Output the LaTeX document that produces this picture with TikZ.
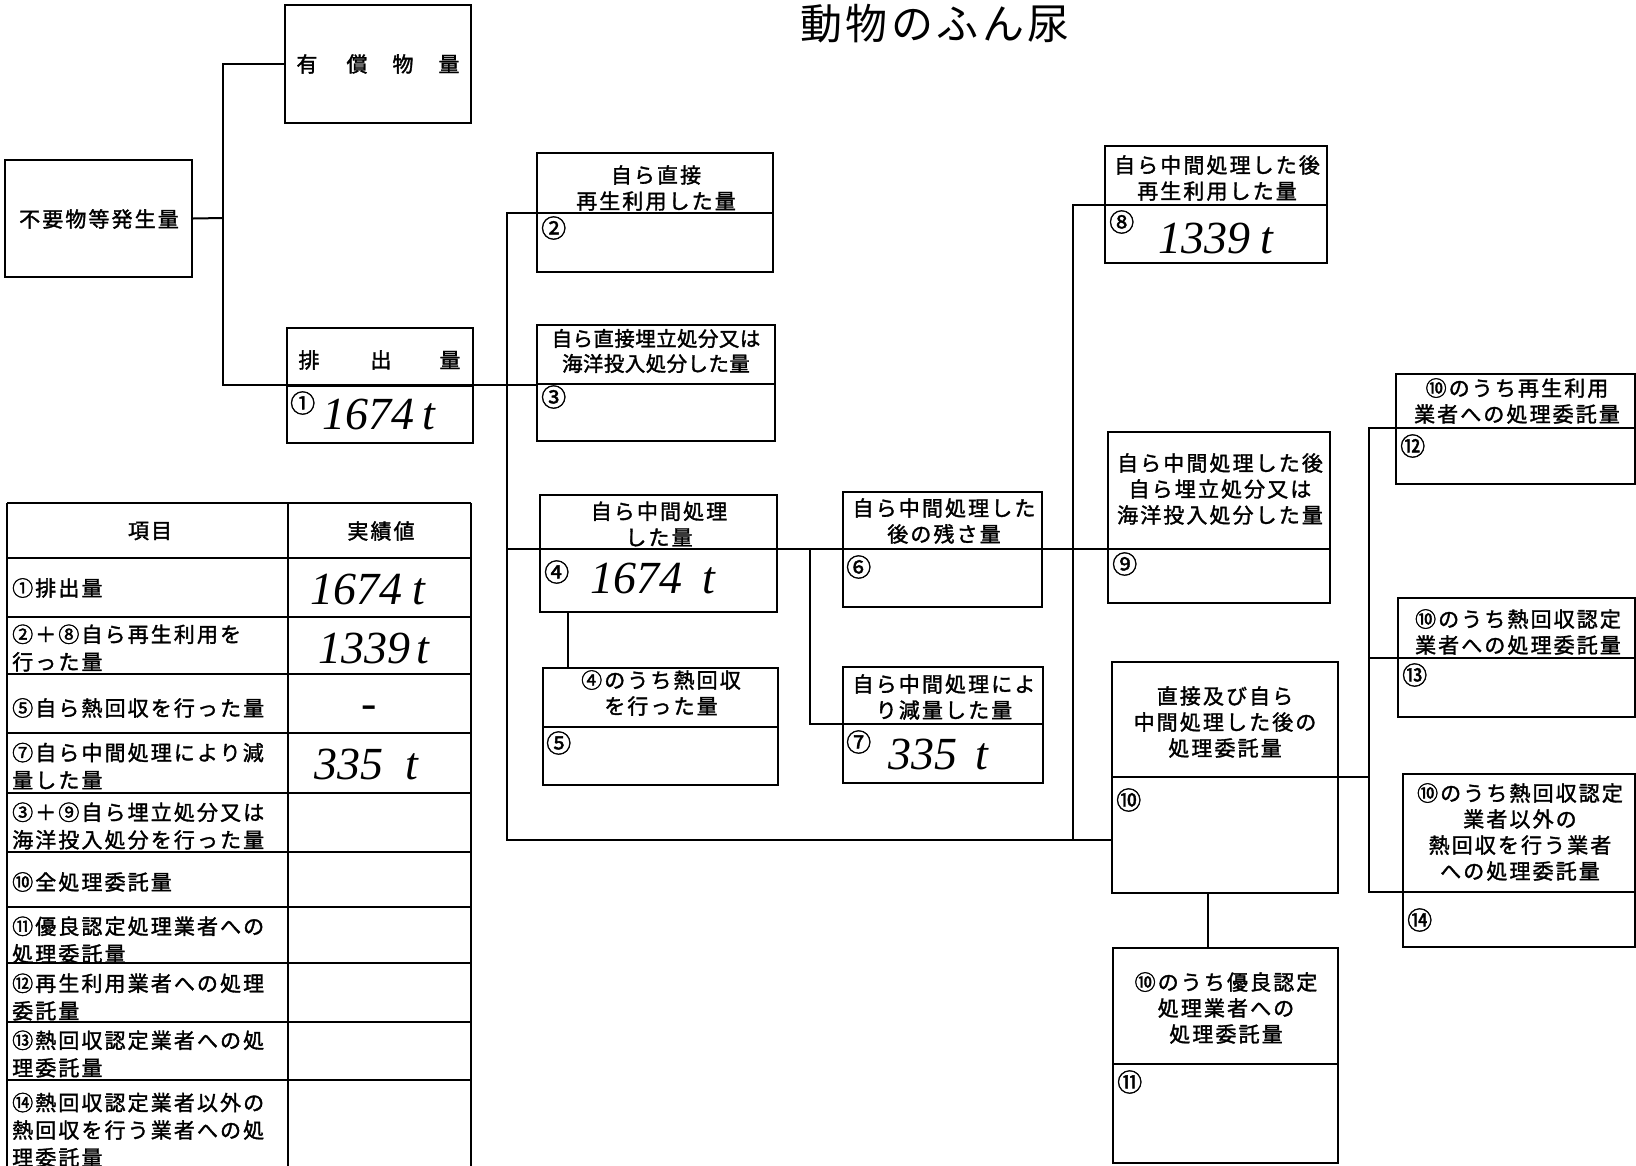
\documentclass[tikz,border=0pt]{standalone}
\usepackage{fontspec}
\usetikzlibrary{fit}
\newfontfamily\jp{Noto Sans CJK JP}[LetterSpace=10,FakeBold=1.6]
\newfontfamily\jpn{Noto Sans CJK JP}[LetterSpace=2,FakeBold=1.6]
\newfontfamily\jpt{Noto Sans CJK JP}[LetterSpace=8]
\newfontfamily\hand{Liberation Serif}
\newcommand\mybox[6]{%
  \node[box, fit={(#2,#3)(#4,#5)}] (#1) {};
  \draw[div] (#2,#6) -- (#4,#6);}
\begin{document}
\begin{tikzpicture}[x=1pt,y=-1pt,
  box/.style={draw, line width=2.4pt, inner sep=0pt},
  div/.style={line width=2pt},
  conn/.style={line width=2pt},
  tbl/.style={line width=2.2pt},
  txt/.style={font=\jp\fontsize{21}{26}\selectfont, align=center, inner sep=0pt},
  txtn/.style={font=\jpn\fontsize{20.5}{25}\selectfont, align=center, inner sep=0pt},
  tcell/.style={font=\jp\fontsize{21}{27.5}\selectfont, align=left, anchor=west, inner sep=0pt},
  num/.style={font=\jp\fontsize{25}{25}\selectfont, anchor=west, inner sep=0pt},
  hw/.style={font=\hand\itshape\fontsize{46}{46}\selectfont, anchor=west, inner sep=0pt}]
\useasboundingbox (0,0) rectangle (1636,1165);
\fill[white] (0,0) rectangle (1636,1165);

% title (handwritten)
\node[font=\jpt\fontsize{42}{42}\selectfont, inner sep=0pt] (title) at (935,24) {動物のふん尿};

% left boxes
\node[box, fit={(5,160)(192,277)}] (b0) {};
\node[txt] (t0) at (99,219) {不要物等発生量};
\node[box, fit={(285,5)(471,123)}] (by) {};
\node[txt] (ty1) at (307,64) {有};
\node[txt] (ty2) at (357,64) {償};
\node[txt] (ty3) at (403,64) {物};
\node[txt] (ty4) at (449,64) {量};
\mybox{b1}{287}{328}{473}{443}{386}
\node[txt] (t1a) at (309,360) {排};
\node[txt] (t1b) at (381,360) {出};
\node[txt] (t1c) at (450,360) {量};
\node[num] (n1) at (290,403) {①};
\node[hw] (v1) at (322,414) {1674\hspace{8pt}t};

% column 2
\mybox{b2}{537}{153}{773}{272}{213}
\node[txt] (t2) at (656,188) {自ら直接\\再生利用した量};
\node[num] (n2) at (541,228) {②};
\mybox{b3}{537}{325}{775}{441}{384}
\node[txtn] (t3) at (656,351) {自ら直接埋立処分又は\\海洋投入処分した量};
\node[num] (n3) at (541,397) {③};
\mybox{b4}{540}{495}{777}{612}{549}
\node[txt] (t4) at (659,524) {自ら中間処理\\した量};
\node[num] (n4) at (544,572) {④};
\node[hw] (v4) at (590,578) {1674\hspace{20pt}t};
\mybox{b5}{543}{668}{778}{785}{727}
\node[txt] (t5) at (661,693) {④のうち熱回収\\を行った量};
\node[num] (n5) at (546,743) {⑤};

% column 3
\mybox{b6}{843}{492}{1042}{607}{549}
\node[txt] (t6) at (944,521) {自ら中間処理した\\後の残さ量};
\node[num] (n6) at (846,567) {⑥};
\mybox{b7}{843}{667}{1043}{783}{724}
\node[txt] (t7) at (944,697) {自ら中間処理によ\\り減量した量};
\node[num] (n7) at (846,742) {⑦};
\node[hw] (v7) at (888,754) {335\hspace{18pt}t};

% column 4
\mybox{b8}{1105}{146}{1327}{263}{205}
\node[txt] (t8) at (1217,178) {自ら中間処理した後\\再生利用した量};
\node[num] (n8) at (1109,222) {⑧};
\node[hw] (v8) at (1158,238) {1339\hspace{10pt}t};
\mybox{b9}{1108}{432}{1330}{603}{549}
\node[txt] (t9) at (1220,489) {自ら中間処理した後\\自ら埋立処分又は\\海洋投入処分した量};
\node[num] (n9) at (1112,564) {⑨};
\mybox{b10}{1112}{662}{1338}{893}{777}
\node[txt] (t10) at (1225,722) {直接及び自ら\\中間処理した後の\\処理委託量};
\node[num] (n10) at (1116,800) {⑩};
\mybox{b11}{1113}{948}{1338}{1163}{1064}
\node[txt] (t11) at (1226,1008) {⑩のうち優良認定\\処理業者への\\処理委託量};
\node[num] (n11) at (1117,1082) {⑪};

% right column
\mybox{b12}{1396}{374}{1635}{484}{428}
\node[txt] (t12) at (1517,401) {⑩のうち再生利用\\業者への処理委託量};
\node[num] (n12) at (1400,446) {⑫};
\mybox{b13}{1398}{598}{1635}{717}{658}
\node[txt] (t13) at (1518,632) {⑩のうち熱回収認定\\業者への処理委託量};
\node[num] (n13) at (1402,675) {⑬};
\mybox{b14}{1403}{774}{1635}{947}{892}
\node[txt] (t14) at (1520,832) {⑩のうち熱回収認定\\業者以外の\\熱回収を行う業者\\への処理委託量};
\node[num] (n14) at (1407,920) {⑭};

% connectors
\coordinate (j0) at (223,218);
\coordinate (e3) at (537,385);
\draw[conn] (b0.east) -- (j0);
\draw[conn] (j0) |- (by.west);
\draw[conn] (j0) |- (e3);

\coordinate (k2) at (537,213);
\coordinate (kb) at (507,840);
\coordinate (k10) at (1112,840);
\draw[conn] (k2) -| (kb) -- (k10);
\coordinate (m0) at (507,549);
\coordinate (m9) at (1108,549);
\draw[conn] (m0) -- (m9);
\draw[conn] (b4.south -| 568,0) -- (b5.north -| 568,0);
\coordinate (m7) at (810,549);
\coordinate (e7) at (843,724);
\draw[conn] (m7) |- (e7);
\coordinate (k8) at (1105,205);
\coordinate (kv) at (1073,840);
\draw[conn] (k8) -| (kv);
\draw[conn] (b10.south -| 1208,0) -- (b11.north -| 1208,0);

\coordinate (r10) at (1338,777);
\coordinate (rv) at (1369,777);
\coordinate (r12) at (1396,428);
\coordinate (r13) at (1398,658);
\coordinate (r14) at (1403,892);
\draw[conn] (r10) -- (rv);
\draw[conn] (r12) -| (1369,892) -- (r14);
\draw[conn] (1369,658) -- (r13);

% table
\draw[tbl] (7,503) -- (471,503);
\draw[tbl] (7,503) -- (7,1170);
\draw[tbl] (288,503) -- (288,1170);
\draw[tbl] (471,503) -- (471,1170);
\foreach \yy in {558,617,674,733,793,852,907,963,1022,1080}
  \draw[tbl] (7,\yy) -- (471,\yy);
\node[txt] (h1) at (150,531) {項目};
\node[txt] (h2) at (381,531) {実績値};
\node[tcell] (r1) at (12,588) {①排出量};
\node[tcell] (r2) at (12,648) {②＋⑧自ら再生利用を\\行った量};
\node[tcell] (r3) at (12,708) {⑤自ら熱回収を行った量};
\node[tcell] (r4) at (12,766) {⑦自ら中間処理により減\\量した量};
\node[tcell] (r5) at (12,826) {③＋⑨自ら埋立処分又は\\海洋投入処分を行った量};
\node[tcell] (r6) at (12,882) {⑩全処理委託量};
\node[tcell] (r7) at (12,940) {⑪優良認定処理業者への\\処理委託量};
\node[tcell] (r8) at (12,997) {⑫再生利用業者への処理\\委託量};
\node[tcell] (r9) at (12,1054) {⑬熱回収認定業者への処\\理委託量};
\node[tcell] (r10t) at (12,1130) {⑭熱回収認定業者以外の\\熱回収を行う業者への処\\理委託量};
\node[hw] (tv1) at (310,589) {1674\hspace{10pt}t};
\node[hw] (tv2) at (318,648) {1339\hspace{6pt}t};
\node[hw] (tv3) at (361,712) {-};
\node[hw] (tv4) at (314,764) {335\hspace{22pt}t};
\end{tikzpicture}
\end{document}
